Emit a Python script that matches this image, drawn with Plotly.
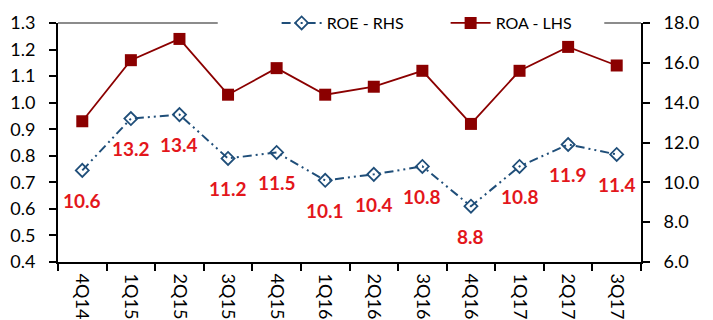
import plotly.graph_objects as go

quarters = ["4Q14", "1Q15", "2Q15", "3Q15", "4Q15", "1Q16", "2Q16", "3Q16",
            "4Q16", "1Q17", "2Q17", "3Q17"]
roa = [0.93, 1.16, 1.24, 1.03, 1.13, 1.03, 1.06, 1.12, 0.92, 1.12, 1.21, 1.14]
roe = [10.6, 13.2, 13.4, 11.2, 11.5, 10.1, 10.4, 10.8, 8.8, 10.8, 11.9, 11.4]

FONT = "Lato"
BLUE = "#1F4E79"
DARKRED = "#8B0000"
LABEL_RED = "#E3161B"

fig = go.Figure()

fig.add_trace(go.Scatter(
    x=quarters, y=roe, name="ROE - RHS", yaxis="y2",
    mode="lines+markers",
    line=dict(color=BLUE, width=2, dash="9px,4px,2px,4px,2px,4px"),
    marker=dict(symbol="diamond-open", size=10, color=BLUE, line=dict(width=1.8)),
))
fig.add_trace(go.Scatter(
    x=quarters, y=roa, name="ROA - LHS", yaxis="y",
    mode="lines+markers",
    line=dict(color=DARKRED, width=1.8),
    marker=dict(symbol="square", size=12, color=DARKRED),
))

# ROE value labels beneath each diamond
for q, v in zip(quarters, roe):
    fig.add_annotation(
        x=q, y=v, xref="x", yref="y2", text=f"{v:.1f}", showarrow=False,
        yshift=-30, font=dict(family=FONT, size=19, color=LABEL_RED, weight="bold"),
    )

# gray top border, interrupted where the legend sits
for x0, x1 in [(0, 0.274), (0.937, 1)]:
    fig.add_shape(type="line", xref="paper", yref="paper", x0=x0, x1=x1, y0=1, y1=1,
                  line=dict(color="#8C8C8C", width=2), layer="above")

fig.update_layout(
    width=713, height=320,
    margin=dict(l=58, r=72, t=23, b=58, autoexpand=False),
    plot_bgcolor="white", paper_bgcolor="white",
    font=dict(family=FONT, size=16, color="black"),
    showlegend=True,
    legend=dict(
        orientation="h", x=0.375, y=1.0, xanchor="left", yanchor="middle",
        bgcolor="rgba(0,0,0,0)", font=dict(family=FONT, size=16, color="black"),
        itemwidth=40, tracegroupgap=0, entrywidth=114,
    ),
    xaxis=dict(
        type="category", tickangle=90, tickson="boundaries",
        showline=True, linecolor="black", linewidth=2,
        ticks="outside", ticklen=7, tickwidth=1.5, tickcolor="black",
        showgrid=False, zeroline=False, range=[-0.5, 11.5],
        tickfont=dict(family=FONT, size=18), automargin=False,
        ticklabelstandoff=6,
    ),
    yaxis=dict(
        range=[0.4, 1.3], dtick=0.1, tickformat=".1f",
        showline=True, linecolor="black", linewidth=2,
        ticks="outside", ticklen=7, tickwidth=1.5, tickcolor="black",
        showgrid=False, zeroline=False, tickfont=dict(family=FONT, size=18),
        automargin=False, ticklabelstandoff=10,
    ),
    yaxis2=dict(
        range=[6, 18], dtick=2, tickformat=".1f", overlaying="y", side="right",
        showline=True, linecolor="black", linewidth=2,
        ticks="outside", ticklen=7, tickwidth=1.5, tickcolor="black",
        showgrid=False, zeroline=False, tickfont=dict(family=FONT, size=18),
        automargin=False, ticklabelstandoff=10,
    ),
)

fig.write_html("out.html")
